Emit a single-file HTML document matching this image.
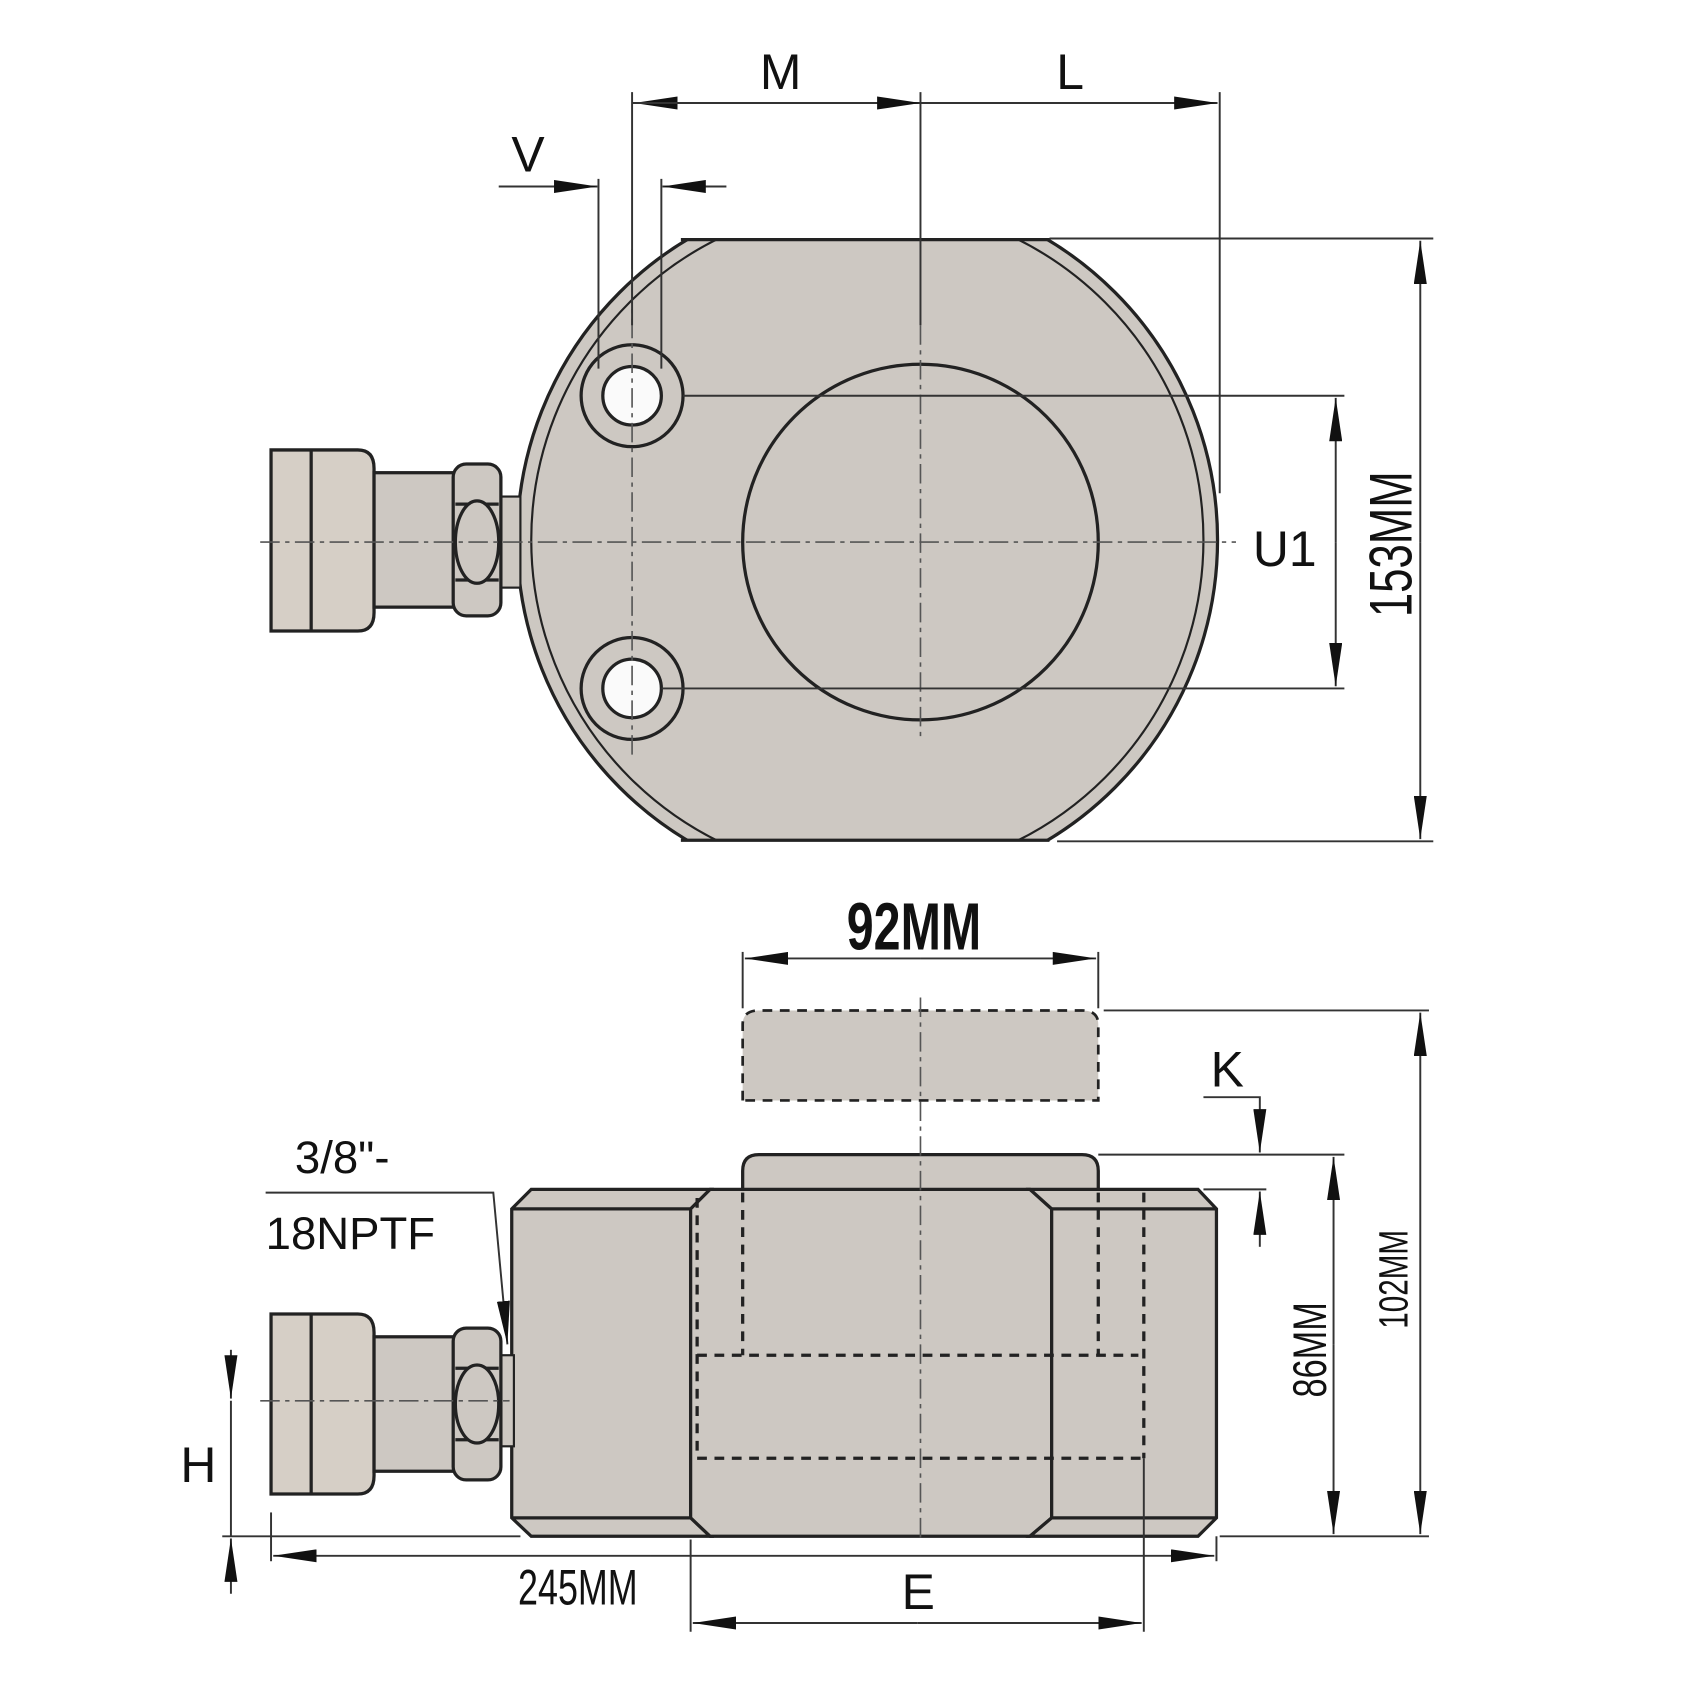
<!DOCTYPE html>
<html><head><meta charset="utf-8"><style>html,body{margin:0;padding:0;background:#fff}svg{display:block}</style></head>
<body>
<svg width="1700" height="1700" viewBox="0 0 1568 1568" xmlns="http://www.w3.org/2000/svg">
<defs>
<marker id="ah" viewBox="0 0 40 12" refX="40" refY="6" markerWidth="40" markerHeight="12" markerUnits="userSpaceOnUse" orient="auto"><path d="M0,0 L40,6 L0,12z" fill="#111"/></marker>
<clipPath id="cp"><rect x="400" y="220" width="800" height="556"/></clipPath>
</defs>
<g stroke="#222" stroke-width="3" fill="#cdc8c2">
<g clip-path="url(#cp)">
<circle cx="800" cy="498" r="323"/>
<circle cx="800" cy="498" r="310" fill="none" stroke-width="2"/>
</g>
<line x1="628" y1="221" x2="968" y2="221"/>
<line x1="628" y1="775" x2="968" y2="775"/>
<circle cx="849" cy="500" r="164"/>
<circle cx="583" cy="365" r="47"/><circle cx="583" cy="365" r="27" fill="#fafafa"/>
<circle cx="583" cy="635" r="47"/><circle cx="583" cy="635" r="27" fill="#fafafa"/>
<rect x="462" y="458" width="18" height="84" stroke-width="2"/>
<path d="M250,415 H330 Q345,415 345,432 V565 Q345,582 330,582 H250 Z" fill="#d6cfc6"/>
<line x1="287" y1="415" x2="287" y2="582"/>
<rect x="345" y="436" width="75" height="124"/>
<rect x="418" y="428" width="44" height="140" rx="12"/>
<path d="M420,465 L460,465 M420,535 L460,535"/>
<ellipse cx="440" cy="500" rx="20" ry="38"/>
<path d="M490,1097 H635 L655,1097 L637,1115 V1400 L655,1417 H490 L472,1400 V1115 Z"/>
<path d="M685,1097 V1080 Q685,1065 700,1065 H998 Q1013,1065 1013,1080 V1097"/>
<path d="M655,1097 H950 L970,1115 V1400 L950,1417 H655 L637,1400 V1115 Z"/>
<path d="M950,1097 H1105 L1122,1115 V1400 L1105,1417 H950 L970,1400 V1115 Z"/>
<line x1="472" y1="1115" x2="637" y2="1115"/><line x1="472" y1="1400" x2="637" y2="1400"/>
<line x1="970" y1="1115" x2="1122" y2="1115"/><line x1="970" y1="1400" x2="1122" y2="1400"/>
<rect x="462" y="1250" width="12" height="84" stroke-width="2"/>
<path d="M250,1212 H330 Q345,1212 345,1229 V1361 Q345,1378 330,1378 H250 Z" fill="#d6cfc6"/>
<line x1="287" y1="1212" x2="287" y2="1378"/>
<rect x="345" y="1233" width="75" height="124"/>
<rect x="418" y="1225" width="44" height="140" rx="12"/>
<path d="M420,1262 L460,1262 M420,1328 L460,1328"/>
<ellipse cx="440" cy="1295" rx="20" ry="36"/>
</g>
<g stroke="#222" stroke-width="3" fill="none" stroke-dasharray="9,7">
<path d="M643,1105 V1345 M685,1100 V1250 M1013,1100 V1250 M1055,1100 V1345 M643,1250 H1050 M643,1345 H1055"/>
<path d="M685,1015 V945 Q685,932 700,932 H998 Q1013,932 1013,945 V1015 H685" fill="#cdc8c2" stroke-width="2.5"/>
</g>
<g stroke="#555" stroke-width="1.5" stroke-dasharray="18,5,4,5" fill="none">
<line x1="240" y1="500" x2="1140" y2="500"/>
<line x1="849" y1="300" x2="849" y2="680"/>
<line x1="583" y1="230" x2="583" y2="700"/>
<line x1="849" y1="920" x2="849" y2="1420"/>
<line x1="240" y1="1292" x2="470" y2="1292"/>
</g>
<g stroke="#333" stroke-width="1.8" fill="none">
<line x1="583" y1="85" x2="583" y2="300"/><line x1="849" y1="85" x2="849" y2="300"/><line x1="1125" y1="85" x2="1125" y2="455"/>
<line x1="849" y1="95" x2="585" y2="95" marker-end="url(#ah)"/><line x1="849" y1="95" x2="1123" y2="95" marker-end="url(#ah)"/>
<line x1="583" y1="95" x2="849" y2="95" marker-end="url(#ah)"/>
<line x1="552" y1="165" x2="552" y2="340"/><line x1="610" y1="165" x2="610" y2="340"/>
<line x1="460" y1="172" x2="551" y2="172" marker-end="url(#ah)"/><line x1="670" y1="172" x2="611" y2="172" marker-end="url(#ah)"/>
<line x1="968" y1="220" x2="1322" y2="220"/><line x1="975" y1="776" x2="1322" y2="776"/>
<line x1="1310" y1="500" x2="1310" y2="222" marker-end="url(#ah)"/><line x1="1310" y1="500" x2="1310" y2="774" marker-end="url(#ah)"/>
<line x1="630" y1="365" x2="1240" y2="365"/><line x1="610" y1="635" x2="1240" y2="635"/>
<line x1="1232" y1="500" x2="1232" y2="367" marker-end="url(#ah)"/><line x1="1232" y1="500" x2="1232" y2="633" marker-end="url(#ah)"/>
<line x1="685" y1="878" x2="685" y2="930"/><line x1="1013" y1="878" x2="1013" y2="930"/>
<line x1="849" y1="884" x2="687" y2="884" marker-end="url(#ah)"/><line x1="849" y1="884" x2="1011" y2="884" marker-end="url(#ah)"/>
<line x1="1018" y1="932" x2="1318" y2="932"/><line x1="1125" y1="1417" x2="1318" y2="1417"/>
<line x1="1310" y1="1170" x2="1310" y2="934" marker-end="url(#ah)"/><line x1="1310" y1="1170" x2="1310" y2="1415" marker-end="url(#ah)"/>
<line x1="1013" y1="1065" x2="1240" y2="1065"/>
<line x1="1230" y1="1240" x2="1230" y2="1067" marker-end="url(#ah)"/><line x1="1230" y1="1240" x2="1230" y2="1415" marker-end="url(#ah)"/>
<line x1="1110" y1="1097" x2="1168" y2="1097"/>
<path d="M1110,1012 H1162 V1063" marker-end="url(#ah)"/>
<line x1="1162" y1="1150" x2="1162" y2="1099" marker-end="url(#ah)"/>
<line x1="250" y1="1395" x2="250" y2="1440"/><line x1="1122" y1="1417" x2="1122" y2="1440"/>
<line x1="600" y1="1435" x2="252" y2="1435" marker-end="url(#ah)"/><line x1="600" y1="1435" x2="1120" y2="1435" marker-end="url(#ah)"/>
<line x1="637" y1="1420" x2="637" y2="1505"/><line x1="1055" y1="1345" x2="1055" y2="1505"/>
<line x1="846" y1="1497" x2="639" y2="1497" marker-end="url(#ah)"/><line x1="846" y1="1497" x2="1053" y2="1497" marker-end="url(#ah)"/>
<line x1="205" y1="1417" x2="480" y2="1417"/>
<line x1="213" y1="1245" x2="213" y2="1290" marker-end="url(#ah)"/><line x1="213" y1="1470" x2="213" y2="1419" marker-end="url(#ah)"/>
<line x1="213" y1="1292" x2="213" y2="1417"/>
<path d="M245,1100 H455 L468,1240" marker-end="url(#ah)"/>
</g>
<g font-family="Liberation Sans, sans-serif" fill="#111">
<text x="720" y="82" font-size="46" text-anchor="middle">M</text>
<text x="987" y="82" font-size="46" text-anchor="middle">L</text>
<text x="487" y="158" font-size="46" text-anchor="middle">V</text>
<text x="1185" y="522" font-size="46" text-anchor="middle">U1</text>
<text x="1132" y="1002" font-size="46" text-anchor="middle">K</text>
<text x="183" y="1367" font-size="46" text-anchor="middle">H</text>
<text x="847" y="1484" font-size="46" text-anchor="middle">E</text>
<text x="272" y="1082" font-size="42">3/8"-</text>
<text x="245" y="1152" font-size="42">18NPTF</text>
<g font-family="Liberation Sans Narrow, Liberation Sans, sans-serif">
<text transform="translate(843,876) scale(0.72,1)" font-size="62" text-anchor="middle" font-weight="bold">92MM</text>
<text transform="translate(533,1480) scale(0.72,1)" font-size="46" text-anchor="middle">245MM</text>
<text transform="translate(1302,502) rotate(-90) scale(0.72,1)" font-size="56" text-anchor="middle">153MM</text>
<text transform="translate(1223,1245) rotate(-90) scale(0.72,1)" font-size="44" text-anchor="middle">86MM</text>
<text transform="translate(1298,1180) rotate(-90) scale(0.72,1)" font-size="38" text-anchor="middle">102MM</text>
</g>
</g>
</svg>
</body></html>
